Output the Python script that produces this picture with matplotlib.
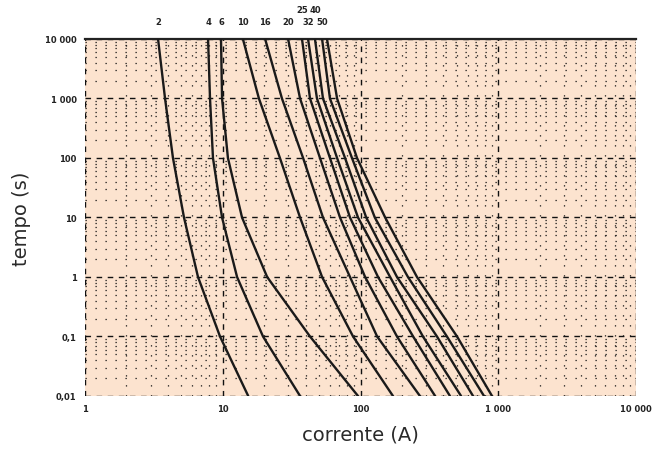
import matplotlib
matplotlib.use("Agg")
import matplotlib.pyplot as plt
from matplotlib.ticker import FixedLocator, NullFormatter, LogLocator
import matplotlib.transforms as mtransforms
import numpy as np

# time levels (s) at which each curve's current (A) was read
times = [10000, 1000, 100, 10, 1, 0.1, 0.01]

ratings = ["2", "4", "6", "10", "16", "20", "25", "32", "40", "50", "63"]
label_row = [0, 0, 0, 0, 0, 0, 1, 0, 1, 0, None]  # 0 = lower row, 1 = upper row

curve_2A = [3.39, 3.81, 4.35, 5.23, 6.61, 9.55, 15.3]
curve_4A = [7.82, 8.08, 8.49, 9.88, 12.7, 19.6, 36.4]
curve_6A = [9.71, 9.88, 10.9, 13.8, 21.0, 43.0, 95.9]
curve_10A = [14.0, 18.3, 26.0, 36.4, 52.6, 88.3, 172.0]
curve_16A = [20.3, 26.9, 38.3, 53.4, 83.9, 132.0, 270.0]
curve_20A = [29.8, 36.4, 50.8, 71.0, 108.0, 184.0, 348.0]
curve_25A = [37.6, 43.0, 60.0, 83.9, 134.0, 241.0, 446.0]
curve_32A = [41.6, 48.3, 67.6, 95.9, 164.0, 284.0, 537.0]
curve_40A = [46.7, 53.4, 77.2, 110.0, 184.0, 359.0, 656.0]
curve_50A = [52.6, 60.0, 86.7, 127.0, 221.0, 424.0, 788.0]
curve_63A = [57.1, 67.6, 94.3, 151.0, 257.0, 502.0, 901.0]

curves = [curve_2A, curve_4A, curve_6A, curve_10A, curve_16A, curve_20A,
          curve_25A, curve_32A, curve_40A, curve_50A, curve_63A]

x_ticks = [1, 10, 100, 1000, 10000]
x_ticklabels = ["1", "10", "100", "1 000", "10 000"]
y_ticks = [0.01, 0.1, 1, 10, 100, 1000, 10000]
y_ticklabels = ["0,01", "0,1", "1", "10", "100", "1 000", "10 000"]

fig = plt.figure(figsize=(6.55, 4.56), dpi=100)
ax = fig.add_axes([0.1298, 0.1294, 0.971 - 0.1298, 0.9123 - 0.1294])
ax.set_facecolor("#FCE3CF")
ax.set_xscale("log")
ax.set_yscale("log")
ax.set_xlim(1, 10000)
ax.set_ylim(0.01, 10000)

for c in curves:
    ax.plot(c, times, color="#1a1a1a", linewidth=1.7, solid_joinstyle="round", zorder=3)

ax.xaxis.set_major_locator(FixedLocator(x_ticks))
ax.yaxis.set_major_locator(FixedLocator(y_ticks))
ax.xaxis.set_minor_locator(LogLocator(base=10, subs=np.arange(2, 10)))
ax.yaxis.set_minor_locator(LogLocator(base=10, subs=np.arange(2, 10)))
ax.xaxis.set_minor_formatter(NullFormatter())
ax.yaxis.set_minor_formatter(NullFormatter())
ax.set_xticklabels(x_ticklabels, fontsize=6, fontweight="bold", color="#222222")
ax.set_yticklabels(y_ticklabels, fontsize=6, fontweight="bold", color="#222222")
ax.tick_params(which="both", length=0, pad=6)

ax.grid(which="major", color="#111111", linestyle=(0, (4, 4)), linewidth=1.0, zorder=1)
ax.grid(which="minor", color="#111111", linestyle=(0, (1, 7)), linewidth=0.9, zorder=1)

for s in ["bottom", "right", "left"]:
    ax.spines[s].set_visible(False)
ax.spines["top"].set_linewidth(1.6)
ax.spines["top"].set_color("#222222")

ax.set_xlabel("corrente (A)", fontsize=14, color="#2a2a2a", labelpad=8)
ax.set_ylabel("tempo (s)", fontsize=14, color="#2a2a2a", labelpad=10)

trans = mtransforms.blended_transform_factory(ax.transData, ax.transAxes)
for r, c, row in zip(ratings, curves, label_row):
    if row is None:
        continue
    yy = 1.035 if row == 0 else 1.07
    ax.text(c[0], yy, r, transform=trans, fontsize=6, fontweight="bold",
            ha="center", va="bottom", color="#222222")

fig.savefig("out.png", dpi=100)
